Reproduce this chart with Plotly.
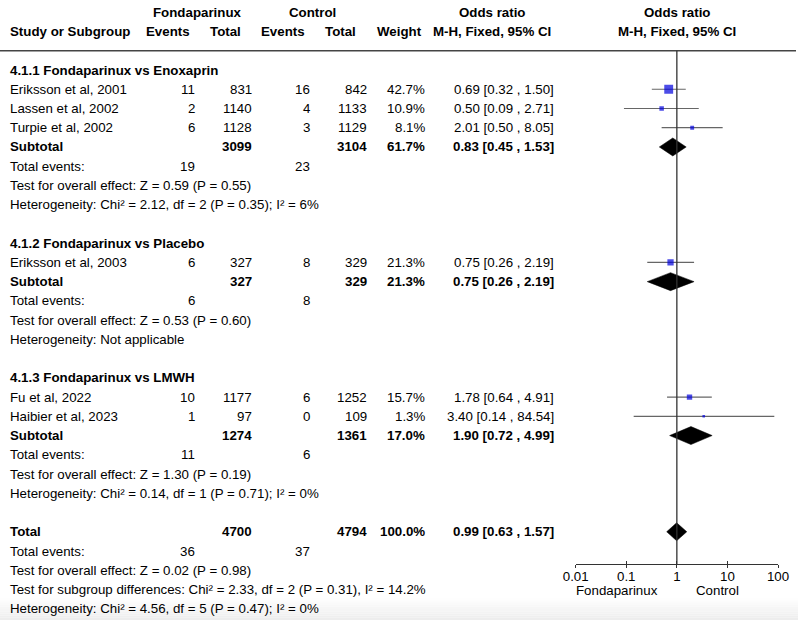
import plotly.graph_objects as go
import math

# ---------------- data ----------------
group_titles = ["4.1.1 Fondaparinux vs Enoxaprin",
                "4.1.2 Fondaparinux vs Placebo",
                "4.1.3 Fondaparinux vs LMWH"]
study_group = [0, 0, 0, 1, 2, 2]
study_names = ["Eriksson et al, 2001", "Lassen et al, 2002", "Turpie et al, 2002",
               "Eriksson et al, 2003", "Fu et al, 2022", "Haibier et al, 2023"]
f_events = [11, 2, 6, 6, 10, 1]
f_total = [831, 1140, 1128, 327, 1177, 97]
c_events = [16, 4, 3, 8, 6, 0]
c_total = [842, 1133, 1129, 329, 1252, 109]
weights = [42.7, 10.9, 8.1, 21.3, 15.7, 1.3]
odds = [0.69, 0.50, 2.01, 0.75, 1.78, 3.40]
ci_low = [0.32, 0.09, 0.50, 0.26, 0.64, 0.14]
ci_high = [1.50, 2.71, 8.05, 2.19, 4.91, 84.54]

sub_f_events = [19, 6, 11]
sub_c_events = [23, 8, 6]
sub_f_total = [3099, 327, 1274]
sub_c_total = [3104, 329, 1361]
sub_weight = [61.7, 21.3, 17.0]
sub_odds = [0.83, 0.75, 1.90]
sub_low = [0.45, 0.26, 0.72]
sub_high = [1.53, 2.19, 4.99]
sub_effect = ["Z = 0.59 (P = 0.55)", "Z = 0.53 (P = 0.60)", "Z = 1.30 (P = 0.19)"]
sub_het = ["Chi² = 2.12, df = 2 (P = 0.35); I² = 6%", "Not applicable",
           "Chi² = 0.14, df = 1 (P = 0.71); I² = 0%"]

tot_f_events = 36
tot_c_events = 37
tot_f_total = 4700
tot_c_total = 4794
tot_weight = 100.0
tot_odds = 0.99
tot_low = 0.63
tot_high = 1.57
tot_effect = "Z = 0.02 (P = 0.98)"
tot_subgroup = "Chi² = 2.33, df = 2 (P = 0.31), I² = 14.2%"
tot_het = "Chi² = 4.56, df = 5 (P = 0.47); I² = 0%"

axis_tickvals = [0.01, 0.1, 1, 10, 100]
axis_ticktext = ["0.01", "0.1", "1", "10", "100"]
favours = ["Fondaparinux", "Control"]

# ---------------- layout constants ----------------
W, H = 798, 620
ROW0_PX, PITCH = 70.0, 19.24
AXIS_PX = 564.0
FONT = "Liberation Sans, Arial, Helvetica, sans-serif"
FS = 13.3
X_LABEL, X_FE, X_FT, X_CE, X_CT, X_W, X_OR = 8, 197, 254, 311.7, 369.3, 427.3, 556
PLOT_L, PLOT_R = 575.7, 778.0
BLUE = "#0000DD"

annotations = []


def txt(x, row, s, anchor="left", bold=False):
    if bold:
        s = "<b>" + s + "</b>"
    annotations.append(dict(x=x, y=row, xref="x", yref="y", text=s, showarrow=False,
                            xanchor=anchor, yanchor="middle",
                            font=dict(family=FONT, size=FS, color="black")))


def fmt_or(o, l, h):
    return f"{o:.2f} [{l:.2f} , {h:.2f}]"


# headers
txt(197, -3, "Fondaparinux", "center", True)
txt(312.2, -3, "Control", "center", True)
txt(492.7, -3, "Odds ratio", "center", True)
txt(677, -3, "Odds ratio", "center", True)
txt(X_LABEL, -2, "Study or Subgroup", "left", True)
txt(168, -2, "Events", "center", True)
txt(225.7, -2, "Total", "center", True)
txt(283.3, -2, "Events", "center", True)
txt(340.8, -2, "Total", "center", True)
txt(399.3, -2, "Weight", "center", True)
txt(492, -2, "M-H, Fixed, 95% CI", "center", True)
txt(677, -2, "M-H, Fixed, 95% CI", "center", True)

study_rows = [0] * len(study_names)
sub_rows = []
row = 0
for g, title in enumerate(group_titles):
    txt(X_LABEL, row, title, bold=True)
    row += 1
    for i in range(len(study_names)):
        if study_group[i] != g:
            continue
        study_rows[i] = row
        txt(X_LABEL, row, study_names[i])
        txt(X_FE, row, str(f_events[i]), "right")
        txt(X_FT, row, str(f_total[i]), "right")
        txt(X_CE, row, str(c_events[i]), "right")
        txt(X_CT, row, str(c_total[i]), "right")
        txt(X_W, row, f"{weights[i]:.1f}%", "right")
        txt(X_OR, row, fmt_or(odds[i], ci_low[i], ci_high[i]), "right")
        row += 1
    sub_rows.append(row)
    txt(X_LABEL, row, "Subtotal", bold=True)
    txt(X_FT, row, str(sub_f_total[g]), "right", True)
    txt(X_CT, row, str(sub_c_total[g]), "right", True)
    txt(X_W, row, f"{sub_weight[g]:.1f}%", "right", True)
    txt(X_OR, row, fmt_or(sub_odds[g], sub_low[g], sub_high[g]), "right", True)
    row += 1
    txt(X_LABEL, row, "Total events:")
    txt(X_FE, row, str(sub_f_events[g]), "right")
    txt(X_CE, row, str(sub_c_events[g]), "right")
    row += 1
    txt(X_LABEL, row, "Test for overall effect: " + sub_effect[g])
    row += 1
    txt(X_LABEL, row, "Heterogeneity: " + sub_het[g])
    row += 2

total_row = row
txt(X_LABEL, row, "Total", bold=True)
txt(X_FT, row, str(tot_f_total), "right", True)
txt(X_CT, row, str(tot_c_total), "right", True)
txt(X_W, row, f"{tot_weight:.1f}%", "right", True)
txt(X_OR, row, fmt_or(tot_odds, tot_low, tot_high), "right", True)
row += 1
txt(X_LABEL, row, "Total events:")
txt(X_FE, row, str(tot_f_events), "right")
txt(X_CE, row, str(tot_c_events), "right")
row += 1
txt(X_LABEL, row, "Test for overall effect: " + tot_effect)
row += 1
txt(X_LABEL, row, "Test for subgroup differences: " + tot_subgroup)
row += 1
txt(X_LABEL, row, "Heterogeneity: " + tot_het)

axis_row = (AXIS_PX - ROW0_PX) / PITCH
fav_row = (590.0 - ROW0_PX) / PITCH
txt(616.7, fav_row, favours[0], "center")
txt(717.7, fav_row, favours[1], "center")

fig = go.Figure()

# confidence intervals
for i in range(len(study_names)):
    fig.add_trace(go.Scatter(x=[ci_low[i], ci_high[i]], y=[study_rows[i]] * 2,
                             xaxis="x2", yaxis="y", mode="lines",
                             line=dict(color="#666666", width=1.2),
                             hoverinfo="skip", showlegend=False))
# squares
sizes = [max(2.6, 1.36 * math.sqrt(w)) for w in weights]
fig.add_trace(go.Scatter(x=odds, y=study_rows, xaxis="x2", yaxis="y", mode="markers",
                         marker=dict(symbol="square", size=sizes, color=BLUE,
                                     line=dict(width=0)),
                         hoverinfo="skip", showlegend=False))
# diamonds
HALF = 9.0 / PITCH
for o, l, h, r in list(zip(sub_odds, sub_low, sub_high, sub_rows)) + [(tot_odds, tot_low, tot_high, total_row)]:
    fig.add_trace(go.Scatter(x=[l, o, h, o, l], y=[r, r - HALF, r, r + HALF, r],
                             xaxis="x2", yaxis="y", mode="lines", fill="toself",
                             fillcolor="black", line=dict(color="black", width=0.5),
                             hoverinfo="skip", showlegend=False))
# dummy trace for overlay tick axis
fig.add_trace(go.Scatter(x=[1], y=[0], xaxis="x3", yaxis="y", mode="markers",
                         marker=dict(opacity=0), hoverinfo="skip", showlegend=False))

pos = (H - AXIS_PX) / H
dom = [PLOT_L / W, PLOT_R / W]

shapes = []
# bottom shading (screenshot shadow)
n = 10
for k in range(n):
    y0 = 598 + k * 2.2
    g = int(254 - k * 1.8)
    shapes.append(dict(type="rect", xref="paper", yref="paper", x0=0, x1=1,
                       y0=(H - y0 - 2.2) / H, y1=(H - y0) / H,
                       fillcolor=f"rgb({g},{g},{g})", line=dict(width=0), layer="below"))
# header rule
shapes.append(dict(type="line", xref="x", yref="y", x0=0, x1=796, y0=-1, y1=-1,
                   line=dict(color="#444444", width=1.5)))
# line of no effect
shapes.append(dict(type="line", xref="x2", yref="y", x0=1, x1=1, y0=-1, y1=axis_row,
                   line=dict(color="#333333", width=1.3)))

fig.update_layout(
    width=W, height=H, margin=dict(l=0, r=0, t=0, b=0, pad=0, autoexpand=False),
    paper_bgcolor="white", plot_bgcolor="rgba(0,0,0,0)",
    showlegend=False,
    xaxis=dict(range=[0, W], domain=[0, 1], visible=False, fixedrange=True,
               automargin=False),
    yaxis=dict(range=[(H - ROW0_PX) / PITCH, -ROW0_PX / PITCH], domain=[0, 1],
               visible=False, fixedrange=True, automargin=False),
    xaxis2=dict(type="log", range=[-2, 2], domain=dom, anchor="free", position=pos,
                showline=True, linecolor="#333333", linewidth=1.3,
                ticks="inside", ticklen=3, tickwidth=1.3, tickcolor="#333333",
                tickvals=axis_tickvals, ticktext=axis_ticktext,
                tickfont=dict(family=FONT, size=FS, color="black"),
                showgrid=False, zeroline=False, fixedrange=True, automargin=False),
    xaxis3=dict(type="log", range=[-2, 2], domain=dom, anchor="free", position=pos,
                overlaying="x2", showline=False,
                ticks="outside", ticklen=3, tickwidth=1.3, tickcolor="#333333",
                tickvals=axis_tickvals, showticklabels=False,
                showgrid=False, zeroline=False, fixedrange=True, automargin=False),
    shapes=shapes,
    annotations=annotations,
)

fig.write_html("out.html")
